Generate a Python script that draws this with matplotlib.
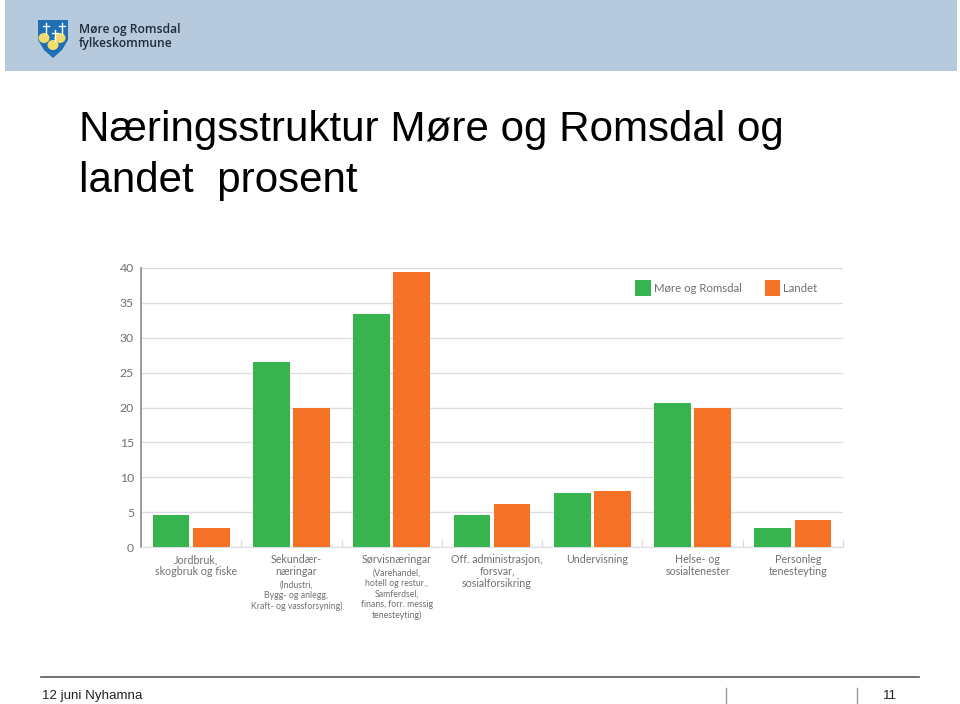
import numpy as np
import matplotlib
matplotlib.use("Agg")
import matplotlib.pyplot as plt
from matplotlib.patches import Polygon, Rectangle, Ellipse

# Values
categories = [
    "Jordbruk,\nskogbruk og fiske",
    "Sekundær-\nnæringar",
    "Sørvisnæringar",
    "Off. administrasjon,\nforsvar,\nsosialforsikring",
    "Undervisning",
    "Helse- og\nsosialtenester",
    "Personleg\ntenesteyting",
]
notes = [
    "",
    "(Industri,\nBygg- og anlegg,\nKraft- og vassforsyning)",
    "(Varehandel,\nhotell og restur.,\nSamferdsel,\nfinans, forr. messig\ntenesteyting)",
    "", "", "", "",
]
more_romsdal = [4.6, 26.5, 33.4, 4.6, 7.7, 20.6, 2.7]
landet = [2.7, 20.0, 39.4, 6.1, 8.0, 20.0, 3.9]
y_ticks = [0, 5, 10, 15, 20, 25, 30, 35, 40]

GREEN = "#37b44e"
ORANGE = "#f47125"
GREY = "#6f7072"

fig = plt.figure(figsize=(9.6, 7.04), dpi=100)

# page furniture in pixel coordinates
page = fig.add_axes([0, 0, 1, 1])
page.set_xlim(0, 960)
page.set_ylim(704, 0)
page.axis("off")

page.add_patch(Rectangle((5, 0), 952, 71, color="#b7cadd", lw=0))

# logo shield
page.add_patch(Polygon([(38, 20), (68, 20), (68, 40), (62, 50), (53, 58), (44, 50), (38, 40)],
                       closed=True, color="#1f6fb5", lw=0))
for cx, cy in [(44, 38), (60, 38), (53, 45)]:
    page.add_patch(Ellipse((cx, cy), 11, 10, color="#f3dc6b", lw=0))
    page.plot([cx + 2, cx + 2], [cy - 15, cy - 4], color="white", lw=1)
    page.plot([cx - 1, cx + 5], [cy - 12, cy - 12], color="white", lw=1)
page.text(79, 29.5, "Møre og Romsdal", family="Open Sans", fontsize=8.7, weight="semibold",
          color="#1d2b3a", va="center")
page.text(79, 43.5, "fylkeskommune", family="Open Sans", fontsize=8.7, weight="semibold",
          color="#1d2b3a", va="center")

page.text(79, 130, "Næringsstruktur Møre og Romsdal og", family="Liberation Sans",
          fontsize=30.3, color="black", va="center")
page.text(79, 181, "landet  prosent", family="Liberation Sans",
          fontsize=30.3, color="black", va="center")

# footer
page.plot([41, 919], [677, 677], color="#55585a", lw=1.2)
page.plot([726, 726], [688, 703], color="#9a9a9a", lw=1)
page.plot([857, 857], [688, 703], color="#9a9a9a", lw=1)
page.text(42, 696, "12 juni Nyhamna", family="Liberation Sans", fontsize=9.6, color="#222222", va="center")
page.text(883, 696, "11", family="Liberation Sans", fontsize=9.6, color="#222222", va="center")

# the chart itself, axes box 141-843 x 268-547 px
ax = fig.add_axes([141 / 960, 1 - 547 / 704, 702 / 960, 279 / 704])
ax.patch.set_alpha(0)

x = np.arange(len(categories))
ax.bar(x - 0.2, more_romsdal, width=0.365, color=GREEN, label="Møre og Romsdal", zorder=3)
ax.bar(x + 0.2, landet, width=0.365, color=ORANGE, label="Landet", zorder=3)

ax.set_xlim(-0.5, 6.5)
ax.set_ylim(0, 40)
ax.set_yticks(y_ticks)
ax.set_yticklabels(y_ticks, family="Lato", fontsize=8.8, color=GREY)
ax.tick_params(axis="y", length=0, pad=5)
ax.grid(axis="y", color="#dddde6", lw=1, zorder=0)
ax.set_axisbelow(True)

ax.set_xticks(x + 0.5)
ax.set_xticklabels([])
ax.tick_params(axis="x", length=5, color="#d8d8dc", direction="in")

for s in ["top", "right"]:
    ax.spines[s].set_visible(False)
ax.spines["left"].set_color("#8a8a8c")
ax.spines["left"].set_linewidth(1.2)
ax.spines["bottom"].set_color("#dddde6")

# category labels with the smaller note below them, sitting a bit right of the group centre
for i, (name, note) in enumerate(zip(categories, notes)):
    ax.annotate(name, (i, 0), xycoords=("data", "data"), xytext=(3.6, -5), textcoords="offset points",
                ha="center", va="top", family="Lato", fontsize=7.7, color=GREY, linespacing=1.1)
    if note:
        offset = -7.6 - 8.2 * (name.count("\n") + 1)
        ax.annotate(note, (i, 0), xycoords=("data", "data"), xytext=(3.6, offset), textcoords="offset points",
                    ha="center", va="top", family="Lato", fontsize=6.3, color=GREY, linespacing=1.2)

leg = ax.legend(loc="upper right", bbox_to_anchor=(0.9785, 0.993), ncol=2, frameon=False,
                prop={"family": "Lato", "size": 8.2}, handlelength=1.35, handleheight=1.75,
                columnspacing=2.0, handletextpad=0.3)
for t in leg.get_texts():
    t.set_color(GREY)

fig.savefig("out.png", dpi=100)
